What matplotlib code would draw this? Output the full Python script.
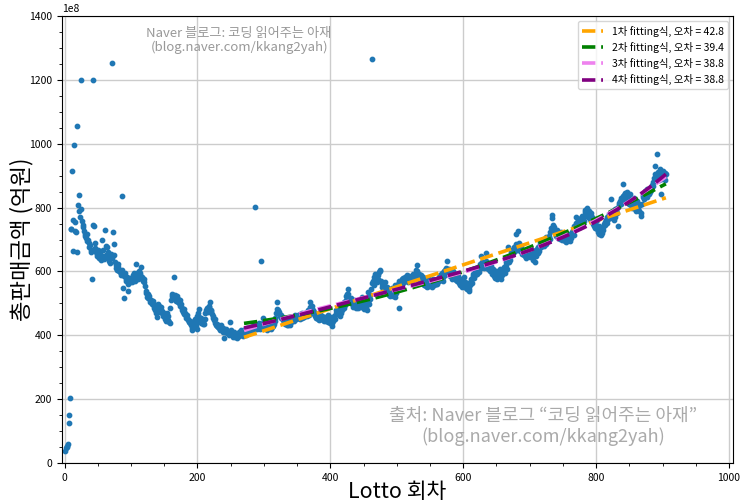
import numpy as np
import matplotlib
matplotlib.use('Agg')
import matplotlib.pyplot as plt

plt.rcParams['font.family'] = ['Noto Sans CJK KR', 'DejaVu Sans']

# total sales per round (unit: 억원), rounds 1..905
sales = [
    37, 47, 49, 53, 61, 151, 126, 204, 733, 734,
    914, 663, 760, 995, 727, 754, 725, 661, 1056, 808,
    840, 789, 770, 797, 1200, 758, 746, 740, 728, 716,
    712, 705, 718, 694, 700, 688, 676, 684, 668, 660,
    575, 1200, 746, 744, 690, 674, 662, 655, 648, 668,
    652, 641, 663, 657, 637, 649, 699, 667, 644, 638,
    731, 681, 652, 678, 661, 646, 633, 641, 626, 655,
    641, 1253, 725, 686, 652, 631, 619, 610, 606, 613,
    624, 600, 597, 602, 590, 604, 836, 547, 516, 585,
    594, 578, 570, 583, 562, 540, 575, 568, 580, 571,
    566, 573, 589, 596, 578, 571, 585, 622, 596, 590,
    577, 601, 594, 588, 614, 583, 575, 571, 566, 578,
    556, 540, 533, 521, 529, 516, 522, 510, 505, 512,
    503, 497, 508, 491, 486, 478, 494, 470, 456, 484,
    499, 492, 480, 473, 488, 469, 476, 461, 470, 465,
    452, 445, 458, 470, 462, 448, 441, 440, 487, 512,
    531, 524, 527, 582, 518, 526, 509, 516, 522, 513,
    505, 500, 511, 493, 497, 486, 478, 472, 482, 468,
    470, 461, 455, 463, 449, 452, 441, 438, 446, 432,
    423, 418, 428, 436, 445, 452, 440, 430, 462, 421,
    470, 483, 458, 448, 455, 440, 446, 437, 443, 434,
    452, 470, 478, 485, 480, 472, 488, 493, 505, 475,
    478, 466, 462, 455, 447, 439, 450, 433, 436, 430,
    425, 422, 428, 416, 431, 420, 418, 412, 424, 391,
    415, 409, 420, 411, 406, 413, 402, 410, 443, 418,
    408, 402, 396, 404, 410, 399, 394, 403, 392, 397,
    405, 398, 412, 402, 408, 418, 412, 398, 405, 414,
    408, 419, 402, 411, 423, 415, 406, 420, 411, 426,
    418, 424, 413, 430, 422, 434, 803, 425, 419, 433,
    429, 438, 424, 421, 435, 632, 431, 440, 455, 429,
    437, 422, 426, 431, 418, 434, 427, 422, 438, 430,
    420, 425, 433, 428, 434, 446, 455, 470, 484, 505,
    480, 466, 473, 461, 465, 453, 457, 447, 454, 442,
    450, 436, 442, 431, 439, 433, 445, 437, 432, 447,
    441, 450, 444, 457, 446, 453, 465, 456, 450, 461,
    454, 463, 458, 450, 466, 461, 453, 469, 457, 464,
    456, 470, 463, 467, 461, 473, 479, 465, 488, 505,
    484, 474, 491, 479, 466, 472, 461, 454, 467, 459,
    452, 464, 448, 457, 466, 454, 460, 451, 447, 456,
    445, 453, 444, 458, 450, 441, 464, 448, 456, 439,
    450, 430, 439, 446, 458, 462, 452, 470, 478, 466,
    480, 473, 488, 476, 462, 470, 485, 478, 492, 503,
    487, 495, 510, 522, 531, 546, 528, 516, 508, 512,
    518, 504, 497, 490, 505, 511, 496, 487, 500, 492,
    486, 498, 511, 503, 494, 489, 507, 520, 498, 482,
    495, 502, 510, 488, 479, 537, 506, 498, 515, 527,
    545, 563, 1267, 571, 557, 582, 592, 574, 580, 566,
    588, 575, 597, 605, 600, 569, 552, 560, 548, 563,
    555, 566, 547, 540, 552, 533, 545, 527, 538, 522,
    546, 531, 549, 536, 524, 541, 557, 520, 534, 550,
    545, 562, 487, 571, 558, 566, 550, 575, 563, 580,
    569, 577, 584, 570, 590, 579, 566, 573, 587, 581,
    575, 569, 582, 591, 576, 586, 580, 593, 604, 620,
    600, 585, 593, 576, 581, 572, 588, 569, 583, 574,
    559, 574, 565, 556, 569, 552, 562, 577, 554, 566,
    558, 570, 552, 576, 563, 557, 572, 567, 561, 574,
    560, 578, 571, 584, 589, 575, 580, 594, 571, 583,
    600, 589, 605, 612, 607, 634, 600, 608, 593, 586,
    598, 589, 576, 584, 603, 591, 585, 578, 573, 580,
    570, 586, 565, 576, 559, 578, 567, 553, 571, 560,
    583, 568, 556, 548, 563, 545, 552, 540, 546, 559,
    571, 578, 564, 586, 593, 581, 599, 590, 608, 601,
    592, 606, 614, 599, 623, 610, 648, 629, 617, 624,
    611, 628, 619, 658, 633, 615, 626, 607, 621, 612,
    603, 616, 591, 599, 608, 586, 594, 581, 600, 589,
    578, 592, 599, 586, 608, 595, 575, 602, 590, 607,
    614, 599, 596, 621, 630, 608, 643, 676, 629, 648,
    636, 660, 652, 668, 657, 678, 672, 663, 687, 716,
    682, 676, 726, 689, 670, 664, 680, 656, 668, 661,
    651, 659, 648, 666, 643, 655, 672, 659, 650, 646,
    660, 653, 668, 646, 636, 654, 662, 629, 648, 667,
    672, 657, 678, 663, 684, 691, 676, 700, 686, 694,
    680, 702, 693, 708, 687, 699, 706, 694, 710, 703,
    724, 736, 776, 768, 745, 733, 738, 724, 720, 712,
    729, 716, 706, 722, 703, 711, 724, 698, 715, 707,
    702, 713, 696, 709, 691, 704, 716, 699, 710, 694,
    712, 705, 724, 718, 730, 715, 742, 735, 751, 770,
    748, 760, 744, 766, 755, 740, 768, 752, 775, 760,
    771, 758, 785, 794, 778, 800, 786, 772, 790, 779,
    765, 782, 758, 770, 748, 762, 741, 755, 737, 745,
    760, 733, 724, 742, 718, 729, 714, 736, 722, 740,
    731, 748, 756, 745, 762, 751, 770, 763, 781, 775,
    768, 827, 785, 772, 790, 779, 760, 795, 770, 788,
    800, 783, 744, 808, 815, 822, 811, 829, 818, 836,
    875, 840, 826, 845, 832, 850, 820, 838, 812, 827,
    843, 808, 821, 799, 815, 806, 830, 797, 814, 789,
    803, 820, 795, 812, 790, 808, 784, 775, 810, 832,
    841, 828, 852, 837, 846, 860, 833, 851, 842, 858,
    849, 864, 855, 872, 868, 880, 894, 905, 929, 884,
    898, 968, 912, 887, 903, 921, 843, 908, 890, 915,
    902, 896, 910, 888, 905,
]
rounds = np.arange(1, len(sales) + 1)

fit_start = 270
degrees = [1, 2, 3, 4]
errors = [42.8, 39.4, 38.8, 38.8]
colors = ['orange', 'green', 'violet', 'purple']

fig, ax = plt.subplots(figsize=(7.43, 5.04), dpi=100)
fig.subplots_adjust(left=0.0834, right=0.9865, top=0.968, bottom=0.0813)

y = np.array(sales) * 1e8
ax.scatter(rounds, y, s=10, color='#1f77b4', zorder=2)

# polynomial fits on the later rounds
xf = rounds[fit_start - 1:]
yf = y[fit_start - 1:]
for deg, err, c in zip(degrees, errors, colors):
    p = np.polynomial.Polynomial.fit(xf, yf, deg)
    ax.plot(xf, p(xf), '--', color=c, lw=2.6, zorder=3,
            label=f'{deg}차 fitting식, 오차 = {err}')

ax.set_xlim(-4, 1006)
ax.set_ylim(0, 1400e8)
ax.set_xticks(np.arange(0, 1001, 200))
ax.set_yticks(np.arange(0, 1401, 200) * 1e8)
ax.ticklabel_format(axis='y', style='sci', scilimits=(8, 8))
ax.minorticks_on()
ax.tick_params(labelsize=7.5)
ax.yaxis.get_offset_text().set_fontsize(7.5)
ax.grid(True, which='major', color='#cccccc', lw=1)
ax.set_axisbelow(True)

ax.set_xlabel('Lotto 회차', fontsize=15.5, labelpad=-1)
ax.set_ylabel('총판매금액 (억원)', fontsize=16, labelpad=-3)

ax.text(0.264, 0.946, 'Naver 블로그: 코딩 읽어주는 아재\n(blog.naver.com/kkang2yah)',
        transform=ax.transAxes, ha='center', va='center', fontsize=9.5,
        color='#999999', linespacing=1.1)
ax.text(0.717, 0.082, '출처: Naver 블로그 “코딩 읽어주는 아재”\n(blog.naver.com/kkang2yah)',
        transform=ax.transAxes, ha='center', va='center', fontsize=13,
        color='#aaaaaa', linespacing=1.2)

ax.legend(loc='upper right', fontsize=7.5)

fig.savefig('out.png', dpi=100)
